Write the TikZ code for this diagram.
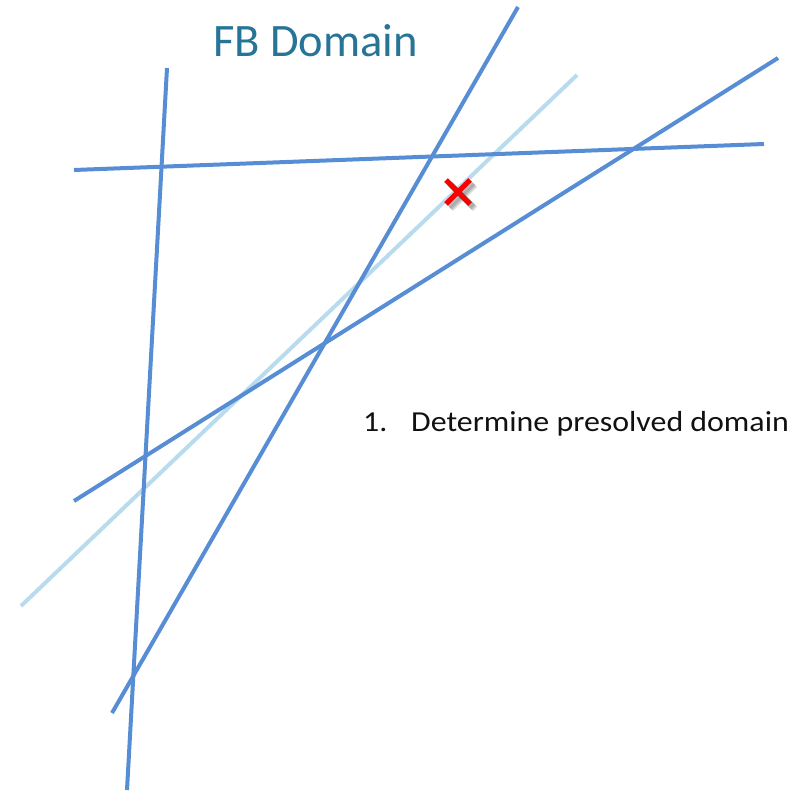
\documentclass[tikz,border=0pt]{standalone}
\usepackage{fontspec}
\usepackage{graphicx}
\setmainfont{Carlito}
\begin{document}
\begin{tikzpicture}[x=1pt,y=-1pt,
  bound/.style={line width=4pt,draw={rgb,255:red,86;green,141;blue,212}},
  lightbound/.style={line width=4pt,draw={rgb,255:red,184;green,220;blue,238}},
  cross/.style={line width=5pt,draw={rgb,255:red,250;green,0;blue,0}},
  crossshadow/.style={line width=6pt,draw=black,opacity=0.12},
  title/.style={text={rgb,255:red,38;green,116;blue,150},font=\fontsize{46.5}{50}\selectfont,anchor=base west,inner sep=0pt},
  step label/.style={text={rgb,255:red,17;green,17;blue,17},font=\fontsize{29}{34}\selectfont,anchor=base west,inner sep=0pt}]
\useasboundingbox (0,0) rectangle (802,791);
% end points of the constraint lines
\coordinate (v1) at (167,68);   \coordinate (v2) at (127,790);
\coordinate (s1) at (518,7);    \coordinate (s2) at (112,713);
\coordinate (l1) at (577,75);   \coordinate (l2) at (21,606);
\coordinate (h1) at (74,170);   \coordinate (h2) at (764,144);
\coordinate (d1) at (778,58);   \coordinate (d2) at (74,501);
% constraint lines
\draw[lightbound] (l1) -- (l2);
\draw[bound] (v1) -- (v2);
\draw[bound] (s1) -- (s2);
\draw[bound] (h1) -- (h2);
\draw[bound] (d1) -- (d2);
% infeasible point marker with soft shadow
\coordinate (xc) at (458,192);
\foreach \o in {2,3,4}{
  \draw[crossshadow] ([shift={(\o+1,\o+1)}]xc) ++(-12,-12) -- ++(24,24);
  \draw[crossshadow] ([shift={(\o+1,\o+1)}]xc) ++(-12,12) -- ++(24,-24);
}
\draw[cross] (xc) ++(-12,-12) -- ++(24,24);
\draw[cross] (xc) ++(-12,12) -- ++(24,-24);
% labels
\node[title] (ttl) at (213,57) {FB Domain};
\node[step label] (num) at (363,431.5) {\scalebox{1.1}[1]{1.}};
\node[step label] (stp) at (411,431.5) {\scalebox{1.1}[1]{Determine presolved domain}};
\end{tikzpicture}
\end{document}
